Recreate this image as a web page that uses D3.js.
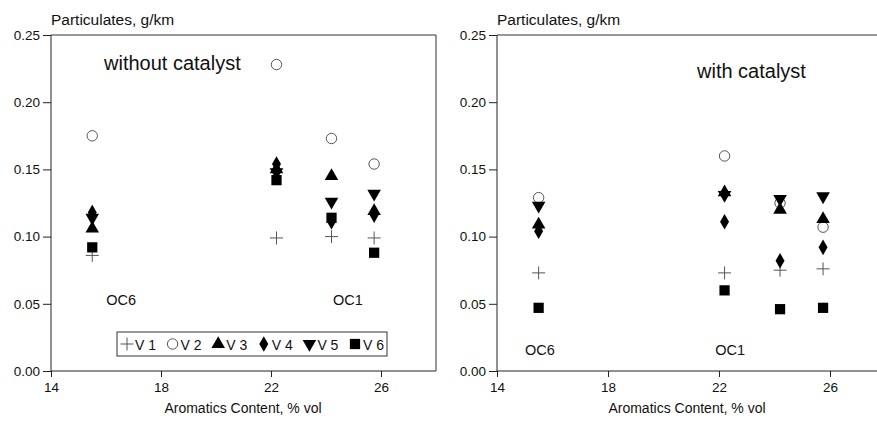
<!DOCTYPE html>
<html>
<head>
<meta charset="utf-8">
<script src="https://cdn.jsdelivr.net/npm/d3@7"></script>
<style>
  html, body { margin: 0; padding: 0; background: #fff; overflow: hidden; }
  svg { display: block; font-family: "Liberation Sans", Arial, sans-serif; }
</style>
</head>
<body>
<svg id="chart" width="877" height="425"></svg>
<script>
// Aromatics content of the test fuels (% vol)
const aromatics = [15.5, 22.2, 24.2, 25.75];

// Vehicle series
const series = ["V1", "V2", "V3", "V4", "V5", "V6"];

// Particulate emissions without catalyst (g/km), one value per fuel
const noCatV1 = [0.086, 0.099, 0.100, 0.099];
const noCatV2 = [0.175, 0.228, 0.173, 0.154];
const noCatV3 = [0.106, 0.150, 0.145, 0.119];
const noCatV4 = [0.118, 0.154, 0.111, 0.116];
const noCatV5 = [0.114, 0.148, 0.126, 0.132];
const noCatV6 = [0.092, 0.142, 0.114, 0.088];

// Particulate emissions with catalyst (g/km)
const catV1 = [0.073, 0.073, 0.075, 0.076];
const catV2 = [0.129, 0.160, 0.125, 0.107];
const catV3 = [0.109, 0.133, 0.120, 0.113];
const catV4 = [0.104, 0.111, 0.082, 0.092];
const catV5 = [0.123, 0.131, 0.128, 0.130];
const catV6 = [0.047, 0.060, 0.046, 0.047];

const xTicks = [14, 18, 22, 26];
const yTicks = [0.00, 0.05, 0.10, 0.15, 0.20, 0.25];

const svg = d3.select("#chart");

const symbolFor = {
  V2: d3.symbol().type(d3.symbolCircle).size(85),
  V3: d3.symbol().type(d3.symbolTriangle).size(80),
  V4: d3.symbol().type(d3.symbolDiamond).size(70),
  V5: d3.symbol().type(d3.symbolTriangle).size(80),
  V6: d3.symbol().type(d3.symbolSquare).size(105)
};

function drawMarker(g, name, x, y) {
  if (name === "V1") {
    const s = 6.5;
    g.append("path")
      .attr("d", `M${x - s},${y}H${x + s}M${x},${y - s}V${y + s}`)
      .attr("stroke", "#555").attr("stroke-width", 1).attr("fill", "none");
    return;
  }
  const p = g.append("path").attr("d", symbolFor[name]());
  let tr = `translate(${x},${y})`;
  if (name === "V5") tr += " rotate(180)";
  p.attr("transform", tr);
  if (name === "V2") {
    p.attr("fill", "#fff").attr("stroke", "#555").attr("stroke-width", 1);
  } else {
    p.attr("fill", "#000");
  }
}

function panel(opts) {
  const x = d3.scaleLinear().domain([14, 28]).range([opts.left, opts.left + 385 * opts.kx]);
  const y = d3.scaleLinear().domain([0, 0.25]).range([371, 35]);
  const g = svg.append("g");

  // frame
  g.append("line").attr("x1", x(14)).attr("x2", x(28)).attr("y1", y(0.25)).attr("y2", y(0.25))
    .attr("stroke", "#333").attr("stroke-width", 1);
  if (opts.rightBorder) {
    g.append("line").attr("x1", x(28)).attr("x2", x(28)).attr("y1", y(0.25)).attr("y2", y(0))
      .attr("stroke", "#333").attr("stroke-width", 1);
  }

  const yAxis = d3.axisLeft(y).tickValues(yTicks).tickFormat(d3.format(".2f")).tickSize(8).tickPadding(3);
  const xAxis = d3.axisBottom(x).tickValues(xTicks).tickFormat(d3.format("d")).tickSize(6).tickPadding(5);

  const ga = g.append("g").attr("transform", `translate(${x(14)},0)`).call(yAxis);
  const gb = g.append("g").attr("transform", `translate(0,${y(0)})`).call(xAxis);
  [ga, gb].forEach(a => {
    a.select(".domain").attr("stroke", "#222");
    a.selectAll(".tick line").attr("stroke", "#222");
    a.selectAll("text").attr("fill", "#111").style("font-size", "13.5px");
  });
  ga.select(".domain").attr("d", `M0,${y(0.25)}V${y(0)}`);
  gb.select(".domain").attr("d", `M${x(14)},0H${x(28)}`);

  g.append("text").attr("x", x(14)).attr("y", 25)
    .style("font-size", "15.5px").attr("fill", "#111").text("Particulates, g/km");

  g.append("text").attr("x", (x(14) + opts.titleCenter)).attr("y", 413)
    .attr("text-anchor", "middle").style("font-size", "14px").attr("fill", "#111")
    .text("Aromatics Content, % vol");

  g.append("text").attr("x", opts.headX).attr("y", opts.headY)
    .style("font-size", "20px").attr("fill", "#111").text(opts.heading);

  opts.fuelLabels.forEach(f => {
    g.append("text").attr("x", x(f.at)).attr("y", y(f.val))
      .attr("text-anchor", "middle").style("font-size", "14.5px").attr("fill", "#111").text(f.text);
  });

  const pts = g.append("g");
  series.forEach((name, si) => {
    opts.data[si].forEach((v, i) => drawMarker(pts, name, x(aromatics[i]), y(v)));
  });
  return { x, y, g };
}

const left = panel({
  left: 51, kx: 1, rightBorder: true,
  heading: "without catalyst", headX: 104, headY: 70,
  titleCenter: 192,
  data: [noCatV1, noCatV2, noCatV3, noCatV4, noCatV5, noCatV6],
  fuelLabels: [{ text: "OC6", at: 16.55, val: 0.049 }, { text: "OC1", at: 24.8, val: 0.049 }]
});

panel({
  left: 497, kx: 27.75 / 27.5, rightBorder: false,
  heading: "with catalyst", headX: 697, headY: 78,
  titleCenter: 190,
  data: [catV1, catV2, catV3, catV4, catV5, catV6],
  fuelLabels: [{ text: "OC6", at: 15.55, val: 0.012 }, { text: "OC1", at: 22.4, val: 0.012 }]
});

// legend box for the vehicles
const lg = left.g.append("g");
lg.append("rect").attr("x", 117).attr("y", 332).attr("width", 270).attr("height", 24)
  .attr("fill", "#fff").attr("stroke", "#333").attr("stroke-width", 1);
const legendX = d3.scalePoint().domain(series).range([127, 355]);
series.forEach(name => {
  drawMarker(lg, name, legendX(name), 344);
  lg.append("text").attr("x", legendX(name) + 8).attr("y", 349.5)
    .style("font-size", "14px").attr("fill", "#111").text(name.replace("V", "V "));
});
</script>
</body>
</html>
